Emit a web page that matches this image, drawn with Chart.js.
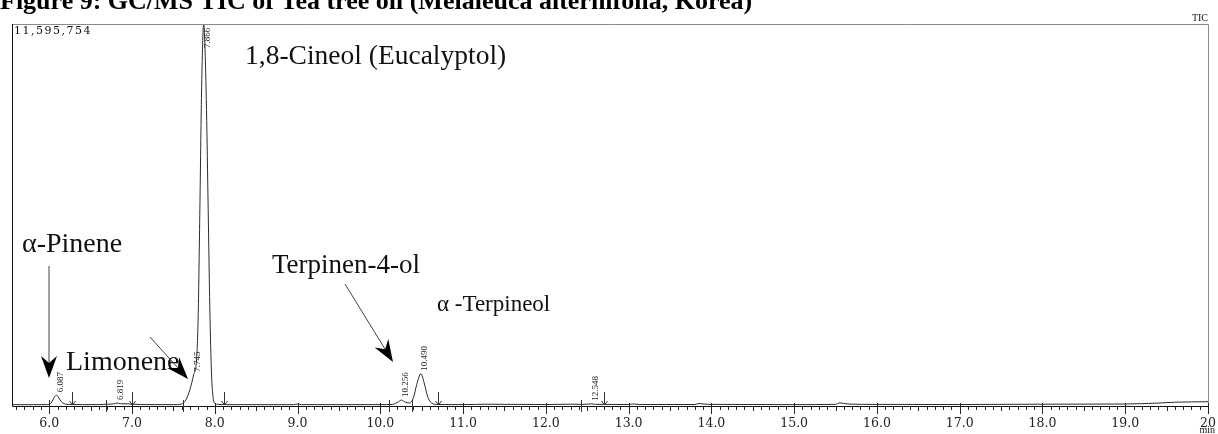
<!DOCTYPE html>
<html>
<head>
<meta charset="utf-8">
<script src="https://cdn.jsdelivr.net/npm/chart.js@4.4.1/dist/chart.umd.min.js"></script>
<style>
  html, body { margin: 0; padding: 0; background: #fff; overflow: hidden; }
  #wrap { width: 1218px; height: 434px; position: relative; }
</style>
</head>
<body>
<div id="wrap"><canvas id="graphic" width="1218" height="434"></canvas></div>
<script>
// retention time (min) and TIC counts
const retentionTimes = [5.55, 5.80, 5.95, 6.00, 6.03, 6.06, 6.087, 6.11, 6.14, 6.18, 6.25, 6.40, 6.60, 6.70, 6.78, 6.819, 6.86, 6.95, 7.00, 7.10, 7.30, 7.50,
  7.60, 7.65, 7.70, 7.745, 7.78, 7.80, 7.82, 7.84, 7.866, 7.88, 7.90, 7.92, 7.94, 7.96, 7.98, 8.00, 8.04, 8.10, 8.50, 8.95, 9.00, 9.05, 9.50,
  10.00, 10.15, 10.22, 10.256, 10.30, 10.35, 10.40, 10.44, 10.49, 10.53, 10.57, 10.62, 10.70, 11.00, 11.30, 11.50, 12.00, 12.30, 12.45, 12.548, 12.60,
  13.00, 13.05, 13.15, 13.80, 13.85, 13.95, 14.50, 15.00, 15.50, 15.55, 15.65, 16.00, 17.00, 18.00, 19.00, 19.40, 19.60, 20.00]
const ticIntensity = [40000, 40000, 42000, 50000, 120000, 260000, 330000, 270000, 150000, 70000, 45000, 42000, 42000, 55000, 65000, 90000, 70000, 65000, 55000, 45000, 42000, 42000,
  60000, 180000, 500000, 950000, 1400000, 2800000, 6000000, 9500000, 11595754, 11000000, 9000000, 6000000, 3000000, 1000000, 250000, 80000, 50000, 42000, 40000, 40000, 60000, 42000, 40000,
  42000, 50000, 130000, 180000, 120000, 90000, 250000, 650000, 980000, 700000, 300000, 90000, 45000, 42000, 55000, 50000, 45000, 55000, 50000, 65000, 50000,
  45000, 60000, 45000, 45000, 75000, 50000, 45000, 42000, 50000, 95000, 60000, 48000, 45000, 55000, 60000, 90000, 115000, 130000]

const peakLabels = ["6.087", "6.819", "7.745", "7.866", "10.256", "10.490", "12.548"]
const peakTimes = [6.087, 6.819, 7.745, 7.866, 10.256, 10.490, 12.548]
const peakApex = [330000, 90000, 950000, 11595754, 180000, 980000, 65000]

const integrationStarts = [6.00, 6.69, 7.61, 10.11, 10.38, 12.43]
const integrationEnds = [6.28, 7.00, 8.11, 10.70, 12.70]

const xTicks = [6, 7, 8, 9, 10, 11, 12, 13, 14, 15, 16, 17, 18, 19, 20]
const maxIntensity = 11595754

const compounds = [
  { text: "1,8-Cineol (Eucalyptol)", x: 245, y: 64, size: 27.5 },
  { text: "\u03b1-Pinene", x: 22, y: 252, size: 28 },
  { text: "Limonene", x: 66, y: 370, size: 28 },
  { text: "Terpinen-4-ol", x: 272, y: 273, size: 27 },
  { text: "\u03b1 -Terpineol", x: 437, y: 311, size: 23 }
]
const pointers = [
  { from: [49, 266], to: [49, 378] },
  { from: [150, 337], to: [188, 379] },
  { from: [345, 284], to: [393, 362] }
]

const serif = '"Liberation Serif", "Times New Roman", serif'

function drawArrow(ctx, x1, y1, x2, y2) {
  const ang = Math.atan2(y2 - y1, x2 - x1)
  const len = 22, half = 8, notch = 7
  ctx.save()
  ctx.strokeStyle = "#444"
  ctx.lineWidth = 1
  ctx.beginPath()
  ctx.moveTo(x1, y1)
  ctx.lineTo(x2 - Math.cos(ang) * (len - notch), y2 - Math.sin(ang) * (len - notch))
  ctx.stroke()
  ctx.translate(x2, y2)
  ctx.rotate(ang)
  ctx.fillStyle = "#000"
  ctx.beginPath()
  ctx.moveTo(0, 0)
  ctx.lineTo(-len, -half)
  ctx.lineTo(-len + notch, 0)
  ctx.lineTo(-len, half)
  ctx.closePath()
  ctx.fill()
  ctx.restore()
}

const chrome = {
  id: "chrome",
  afterDatasetsDraw(chart) {
    const ctx = chart.ctx
    const a = chart.chartArea
    const xs = chart.scales.x
    const ys = chart.scales.y
    ctx.save()

    // frame
    ctx.lineWidth = 1
    ctx.strokeStyle = "#8a8a8a"
    ctx.beginPath()
    ctx.moveTo(a.left, a.top + 0.5); ctx.lineTo(a.right + 0.5, a.top + 0.5)
    ctx.lineTo(a.right + 0.5, a.bottom)
    ctx.stroke()
    ctx.strokeStyle = "#111"
    ctx.beginPath()
    ctx.moveTo(a.left + 0.5, a.top); ctx.lineTo(a.left + 0.5, a.bottom + 0.5)
    ctx.lineTo(a.right, a.bottom + 0.5)
    ctx.stroke()

    // axis ticks every 0.1 min
    ctx.strokeStyle = "#222"
    ctx.beginPath()
    for (let k = 56; k <= 200; k++) {
      const px = Math.round(xs.getPixelForValue(k / 10)) + 0.5
      const b = a.bottom
      if (k % 10 === 0) { ctx.moveTo(px, b - 3); ctx.lineTo(px, b + 8) }
      else if (k % 5 === 0) { ctx.moveTo(px, b); ctx.lineTo(px, b + 5) }
      else { ctx.moveTo(px, b); ctx.lineTo(px, b + 4) }
    }
    ctx.stroke()

    // integration marks
    ctx.strokeStyle = "#333"
    ctx.beginPath()
    integrationStarts.forEach(t => {
      const px = Math.round(xs.getPixelForValue(t)) + 0.5
      ctx.moveTo(px, a.bottom - 6); ctx.lineTo(px, a.bottom + 6)
    })
    integrationEnds.forEach(t => {
      const px = Math.round(xs.getPixelForValue(t)) + 0.5
      ctx.moveTo(px, a.bottom - 14); ctx.lineTo(px, a.bottom - 1)
      ctx.moveTo(px - 3, a.bottom - 5); ctx.lineTo(px, a.bottom - 1); ctx.lineTo(px + 3, a.bottom - 5)
    })
    ctx.stroke()

    // peak retention time labels, rotated
    ctx.fillStyle = "#222"
    ctx.font = "9px " + serif
    ctx.textAlign = "left"
    ctx.textBaseline = "middle"
    peakLabels.forEach((lab, i) => {
      const px = xs.getPixelForValue(peakTimes[i]) + 4
      const py = Math.max(ys.getPixelForValue(peakApex[i]) - 3, a.top + 24)
      ctx.save()
      ctx.translate(px, py)
      ctx.rotate(-Math.PI / 2)
      ctx.fillText(lab, 0, 0)
      ctx.restore()
    })

    // header texts
    ctx.textBaseline = "alphabetic"
    ctx.fillStyle = "#111"
    ctx.font = "11px DejaVu Serif"
    ctx.letterSpacing = "1.5px"
    ctx.fillText(maxIntensity.toLocaleString("en-US"), a.left + 2, a.top + 10)
    ctx.letterSpacing = "0px"
    ctx.font = "10px " + serif
    ctx.textAlign = "right"
    ctx.fillText("TIC", a.right, a.top - 3)
    ctx.fillText("min", a.right + 7, 433)

    // figure title (clipped at the top)
    ctx.textAlign = "left"
    ctx.fillStyle = "#000"
    ctx.font = "bold 26px " + serif
    ctx.fillText("Figure 9: GC/MS TIC of Tea tree oil (Melaleuca alternifolia, Korea)", 0, 9)

    // compound annotations
    ctx.fillStyle = "#111"
    compounds.forEach(c => {
      ctx.font = c.size + "px " + serif
      ctx.fillText(c.text, c.x, c.y)
    })
    pointers.forEach(p => drawArrow(ctx, p.from[0], p.from[1], p.to[0], p.to[1]))

    ctx.restore()
  }
}

const graphic = document.querySelector("#graphic")
const chart = new Chart(graphic, {
  type: "line",
  data: {
    datasets: [{
      data: retentionTimes.map((t, i) => ({ x: t, y: ticIntensity[i] })),
      borderColor: "#2a2a2a",
      borderWidth: 1,
      pointRadius: 0,
      cubicInterpolationMode: "monotone",
      fill: false
    }]
  },
  options: {
    responsive: false,
    animation: false,
    devicePixelRatio: 1,
    layout: { padding: { left: 12, right: 10, top: 24, bottom: 0 } },
    plugins: { legend: { display: false }, tooltip: { enabled: false } },
    scales: {
      x: {
        type: "linear",
        min: 5.55,
        max: 20,
        grid: { display: false, drawTicks: false },
        border: { display: false },
        afterBuildTicks: s => { s.ticks = xTicks.map(v => ({ value: v })) },
        afterFit: s => { s.height = 28; s.paddingLeft = 0; s.paddingRight = 0 },
        ticks: {
          autoSkip: false,
          maxRotation: 0,
          padding: 10,
          color: "#222",
          font: { family: "DejaVu Serif", size: 12.5 },
          callback: v => v === 20 ? "20" : v.toFixed(1)
        }
      },
      y: { display: false, min: 0, max: maxIntensity }
    }
  },
  plugins: [chrome]
})
</script>
</body>
</html>
